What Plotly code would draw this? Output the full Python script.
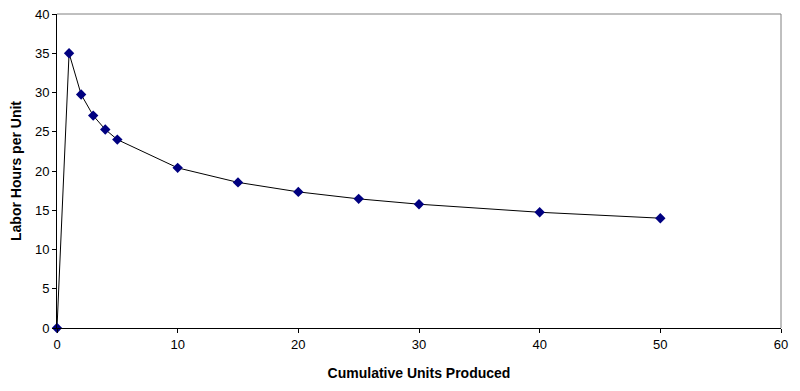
import plotly.graph_objects as go

units = [0, 1, 2, 3, 4, 5, 10, 15, 20, 25, 30, 40, 50]
hours = [0, 35.0, 29.75, 27.06, 25.29, 24.0, 20.4, 18.55, 17.34, 16.45, 15.77, 14.74, 13.99]

fig = go.Figure()
fig.add_trace(go.Scatter(
    x=units, y=hours, mode="lines+markers",
    line=dict(color="black", width=1),
    marker=dict(symbol="diamond", size=8, color="#000080", line=dict(width=0)),
    cliponaxis=False, showlegend=False,
))

fig.add_shape(type="line", xref="paper", yref="paper", x0=0, y0=1, x1=1, y1=1,
              line=dict(color="#808080", width=1), layer="above")
fig.add_shape(type="line", xref="paper", yref="paper", x0=1, y0=0, x1=1, y1=1,
              line=dict(color="#808080", width=1), layer="above")

font = dict(family="Arial, Liberation Sans, sans-serif", size=13, color="black")
tfont = dict(family="Arial, Liberation Sans, sans-serif", size=14, color="black")
fig.update_layout(
    width=800, height=391,
    margin=dict(l=49, r=27, t=6, b=71),
    plot_bgcolor="white", paper_bgcolor="white",
    font=font,
    xaxis=dict(range=[0, 60], dtick=10, showgrid=False, zeroline=False,
               showline=True, linecolor="black", linewidth=1, automargin=False,
               ticks="outside", ticklen=4, tickcolor="black", ticklabeloverflow="allow",
               title=dict(text="<b>Cumulative Units Produced</b>", standoff=17, font=tfont)),
    yaxis=dict(range=[0, 40], dtick=5, showgrid=False, zeroline=False,
               showline=True, linecolor="black", linewidth=1, automargin=False,
               ticks="outside", ticklen=4, tickcolor="black", ticklabeloverflow="allow",
               title=dict(text="<b>Labor Hours per Unit</b>", standoff=14, font=tfont)),
    xaxis2=dict(range=[0, 60], dtick=10, overlaying="x", side="bottom", showgrid=False,
                zeroline=False, showline=False, showticklabels=False, automargin=False,
                ticks="inside", ticklen=3, tickcolor="black"),
    yaxis2=dict(range=[0, 40], dtick=5, overlaying="y", side="left", showgrid=False,
                zeroline=False, showline=False, showticklabels=False, automargin=False,
                ticks="inside", ticklen=3, tickcolor="black"),
)

fig.write_html("out.html")
